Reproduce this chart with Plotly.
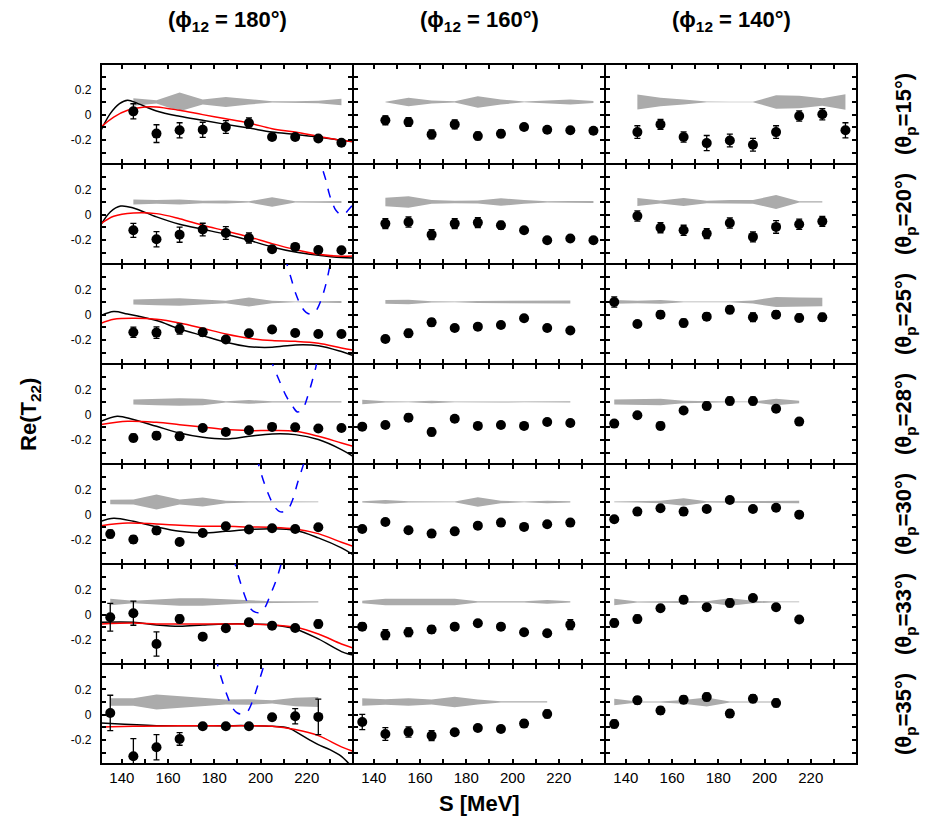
import plotly.graph_objects as go
from plotly.subplots import make_subplots

# ---------------- data ----------------
PHI_LABELS = ["180", "160", "140"]
THETA_LABELS = ["15", "20", "25", "28", "30", "33", "35"]
BAND_CENTER = 0.1

E145_235 = [145, 155, 165, 175, 185, 195, 205, 215, 225, 235]
E145_225 = [145, 155, 165, 175, 185, 195, 205, 215, 225]
E135_225 = [135, 145, 155, 165, 175, 185, 195, 205, 215, 225]
E135_215 = [135, 145, 155, 165, 175, 185, 195, 205, 215]
E135_205 = [135, 145, 155, 165, 175, 185, 195, 205]

# ---- phi12 = 180 deg ----
ENERGY_PHI180 = [E145_235, E145_235, E145_235, E145_235, E135_225, E135_225, E135_225]
T22_PHI180 = [
    [0.026, -0.15, -0.124, -0.12, -0.098, -0.066, -0.177, -0.177, -0.188, -0.222],
    [-0.124, -0.195, -0.158, -0.118, -0.145, -0.184, -0.274, -0.255, -0.279, -0.282],
    [-0.139, -0.142, -0.113, -0.139, -0.197, -0.147, -0.118, -0.145, -0.153, -0.153],
    [-0.184, -0.166, -0.171, -0.105, -0.137, -0.124, -0.097, -0.1, -0.11, -0.105],
    [-0.153, -0.197, -0.126, -0.216, -0.145, -0.092, -0.118, -0.108, -0.113, -0.1],
    [-0.021, 0.011, -0.232, -0.034, -0.174, -0.108, -0.061, -0.087, -0.105, -0.074],
    [0.013, -0.329, -0.258, -0.192, -0.092, -0.092, -0.092, -0.021, -0.013, -0.018],
]
ERR_PHI180 = [
    [0.06, 0.07, 0.06, 0.06, 0.05, 0.04, 0.02, 0.02, 0.02, 0.02],
    [0.055, 0.06, 0.06, 0.05, 0.05, 0.04, 0.02, 0.02, 0.02, 0.02],
    [0.04, 0.045, 0.04, 0.03, 0.02, 0.02, 0.02, 0.02, 0.02, 0.02],
    [0.03, 0.03, 0.03, 0.02, 0.02, 0.02, 0.02, 0.02, 0.02, 0.02],
    [0.03, 0.03, 0.03, 0.02, 0.02, 0.02, 0.02, 0.02, 0.02, 0.02],
    [0.11, 0.095, 0.095, 0.03, 0.02, 0.02, 0.02, 0.02, 0.02, 0.03],
    [0.14, 0.14, 0.1, 0.05, 0.02, 0.02, 0.02, 0.02, 0.06, 0.14],
]
BAND_PHI180 = [
    [0.03, 0.013, 0.074, 0.02, 0.04, 0.02, 0.005, 0.005, 0.01, 0.025],
    [0.02, 0.015, 0.02, 0.01, 0.012, 0.005, 0.037, 0.005, 0.005, 0.008],
    [0.02, 0.025, 0.03, 0.02, 0.01, 0.035, 0.01, 0.003, 0.005, 0.008],
    [0.02, 0.025, 0.03, 0.025, 0.005, 0.015, 0.005, 0.005, 0.005, 0.005],
    [0.017, 0.02, 0.06, 0.02, 0.035, 0.01, 0.005, 0.003, 0.003, 0.003],
    [0.025, 0.01, 0.02, 0.03, 0.03, 0.02, 0.01, 0.005, 0.005, 0.005],
    [0.03, 0.03, 0.06, 0.045, 0.035, 0.02, 0.022, 0.013, 0.033, 0.04],
]

# ---- phi12 = 160 deg ----
ENERGY_PHI160 = [E145_235, E145_235, E145_225, E135_225, E135_225, E135_225, E135_215]
T22_PHI160 = [
    [-0.045, -0.058, -0.156, -0.077, -0.169, -0.151, -0.098, -0.119, -0.124, -0.127],
    [-0.071, -0.058, -0.158, -0.071, -0.063, -0.084, -0.124, -0.203, -0.189, -0.203],
    [-0.192, -0.147, -0.061, -0.105, -0.095, -0.082, -0.029, -0.105, -0.126],
    [-0.095, -0.082, -0.024, -0.137, -0.032, -0.089, -0.082, -0.089, -0.058, -0.066],
    [-0.113, -0.058, -0.124, -0.15, -0.132, -0.087, -0.063, -0.097, -0.076, -0.063],
    [-0.095, -0.158, -0.139, -0.118, -0.095, -0.068, -0.095, -0.139, -0.147, -0.079],
    [-0.058, -0.153, -0.137, -0.166, -0.139, -0.105, -0.113, -0.071, 0.005],
]
ERR_PHI160 = [
    [0.035, 0.035, 0.035, 0.035, 0.03, 0.03, 0.02, 0.02, 0.02, 0.02],
    [0.04, 0.04, 0.04, 0.04, 0.04, 0.03, 0.02, 0.02, 0.02, 0.02],
    [0.02, 0.03, 0.03, 0.02, 0.02, 0.02, 0.02, 0.02, 0.02],
    [0.02, 0.02, 0.03, 0.03, 0.02, 0.02, 0.02, 0.02, 0.02, 0.02],
    [0.02, 0.02, 0.02, 0.02, 0.02, 0.02, 0.02, 0.02, 0.02, 0.02],
    [0.03, 0.04, 0.035, 0.03, 0.02, 0.02, 0.02, 0.02, 0.02, 0.04],
    [0.06, 0.05, 0.04, 0.04, 0.02, 0.02, 0.02, 0.03, 0.03],
]
BAND_PHI160 = [
    [0.002, 0.034, 0.012, 0.005, 0.045, 0.02, 0.003, 0.01, 0.02, 0.008],
    [0.033, 0.045, 0.015, 0.01, 0.012, 0.03, 0.015, 0.005, 0.008, 0.008],
    [0.015, 0.017, 0.005, 0.003, 0.008, 0.01, 0.012, 0.012, 0.012],
    [0.018, 0.005, 0.003, 0.01, 0.003, 0.003, 0.005, 0.003, 0.003, 0.005],
    [0.005, 0.015, 0.005, 0.003, 0.003, 0.038, 0.01, 0.003, 0.01, 0.005],
    [0.01, 0.026, 0.026, 0.026, 0.026, 0.005, 0.003, 0.005, 0.015, 0.005],
    [0.03, 0.022, 0.03, 0.02, 0.042, 0.02, 0.005, 0.005, 0.005],
]

# ---- phi12 = 140 deg ----
ENERGY_PHI140 = [E145_235, E145_225, E135_225, E135_215, E135_215, E135_215, E135_205]
T22_PHI140 = [
    [-0.138, -0.077, -0.177, -0.225, -0.204, -0.238, -0.138, -0.011, 0.003, -0.124],
    [-0.011, -0.103, -0.124, -0.15, -0.066, -0.176, -0.097, -0.076, -0.053],
    [0.1, -0.074, 0.0, -0.066, -0.016, 0.039, -0.021, 0.0, -0.026, -0.021],
    [-0.071, -0.005, -0.089, 0.032, 0.068, 0.108, 0.108, 0.047, -0.055],
    [-0.037, 0.024, 0.05, 0.024, 0.045, 0.116, 0.045, 0.055, 0.0],
    [-0.066, -0.034, 0.05, 0.118, 0.058, 0.092, 0.132, 0.058, -0.039],
    [-0.074, 0.113, 0.032, 0.118, 0.139, 0.008, 0.126, 0.092],
]
ERR_PHI140 = [
    [0.05, 0.04, 0.04, 0.06, 0.05, 0.05, 0.05, 0.04, 0.045, 0.06],
    [0.04, 0.04, 0.04, 0.04, 0.04, 0.04, 0.05, 0.04, 0.04],
    [0.04, 0.02, 0.03, 0.03, 0.03, 0.03, 0.035, 0.03, 0.03, 0.03],
    [0.02, 0.02, 0.03, 0.02, 0.03, 0.03, 0.03, 0.02, 0.02],
    [0.02, 0.02, 0.02, 0.03, 0.02, 0.02, 0.02, 0.02, 0.02],
    [0.03, 0.03, 0.02, 0.03, 0.02, 0.03, 0.02, 0.02, 0.02],
    [0.03, 0.03, 0.03, 0.03, 0.03, 0.03, 0.03, 0.03],
]
BAND_PHI140 = [
    [0.06, 0.033, 0.02, 0.003, 0.002, 0.002, 0.053, 0.05, 0.03, 0.062],
    [0.032, 0.012, 0.032, 0.01, 0.015, 0.015, 0.055, 0.005, 0.005],
    [0.015, 0.01, 0.015, 0.003, 0.003, 0.003, 0.012, 0.04, 0.035, 0.033],
    [0.02, 0.02, 0.025, 0.01, 0.005, 0.003, 0.003, 0.025, 0.01],
    [0.003, 0.005, 0.01, 0.03, 0.005, 0.005, 0.005, 0.008, 0.01],
    [0.026, 0.004, 0.005, 0.008, 0.005, 0.03, 0.01, 0.003, 0.003],
    [0.025, 0.004, 0.004, 0.015, 0.035, 0.004, 0.004, 0.004],
]

# ---- theory curves (phi12 = 180 column only) ----
BLACK_S = [
    [131, 135, 139, 142.5, 147, 155, 165, 175, 185, 195, 205, 215, 225, 235, 240],
    [131, 135, 139.5, 145, 155, 165, 175, 185, 195, 205, 215, 225, 235, 240],
    [131, 136.5, 142.5, 155, 165, 175, 185, 195, 205, 215, 225, 235, 240],
    [131, 138, 145, 155, 165, 175, 185, 195, 205, 215, 225, 235, 240],
    [131, 136.5, 145, 155, 165, 175, 185, 195, 205, 215, 225, 235, 240],
    [131, 145, 155, 165, 175, 185, 195, 205, 215, 225, 235, 238, 240],
    [131, 135, 155, 165, 175, 185, 195, 205, 212, 215, 221, 225, 230, 235, 238, 240],
]
BLACK_V = [
    [-0.124, 0.008, 0.087, 0.114, 0.087, 0.029, -0.013, -0.045, -0.077, -0.106, -0.138, -0.156, -0.177, -0.204, -0.214],
    [-0.079, 0.021, 0.068, 0.053, -0.018, -0.076, -0.116, -0.155, -0.203, -0.255, -0.295, -0.321, -0.339, -0.342],
    [-0.008, 0.024, 0.005, -0.047, -0.113, -0.166, -0.218, -0.253, -0.258, -0.239, -0.245, -0.292, -0.324],
    [-0.053, -0.013, -0.039, -0.092, -0.145, -0.179, -0.192, -0.171, -0.153, -0.158, -0.197, -0.276, -0.329],
    [-0.053, -0.029, -0.053, -0.097, -0.132, -0.145, -0.132, -0.118, -0.111, -0.124, -0.184, -0.263, -0.316],
    [-0.061, -0.061, -0.082, -0.092, -0.082, -0.074, -0.074, -0.082, -0.113, -0.192, -0.292, -0.311, -0.318],
    [-0.066, -0.071, -0.087, -0.087, -0.087, -0.087, -0.087, -0.092, -0.105, -0.132, -0.197, -0.237, -0.276, -0.329, -0.382, -0.41],
]
RED_S = [
    [131, 136.5, 142.5, 150, 155, 165, 175, 185, 195, 205, 215, 225, 235, 240],
    [131, 136.5, 145, 155, 165, 175, 185, 195, 205, 215, 225, 235, 240],
    [131, 136.5, 145, 155, 165, 175, 185, 195, 205, 215, 225, 235, 240],
    [131, 142.5, 155, 165, 175, 185, 195, 205, 215, 225, 235, 240],
    [131, 142.5, 155, 165, 175, 185, 195, 205, 215, 225, 235, 240],
    [131, 145, 155, 165, 175, 185, 195, 205, 215, 225, 235, 240],
    [131, 145, 165, 185, 205, 215, 225, 235, 240],
]
RED_V = [
    [-0.098, -0.019, 0.034, 0.061, 0.061, 0.034, 0.0, -0.032, -0.066, -0.111, -0.138, -0.172, -0.204, -0.212],
    [-0.071, -0.013, 0.013, 0.008, -0.032, -0.084, -0.129, -0.176, -0.229, -0.276, -0.313, -0.329, -0.326],
    [-0.068, -0.037, -0.029, -0.037, -0.066, -0.108, -0.153, -0.187, -0.205, -0.211, -0.226, -0.263, -0.279],
    [-0.079, -0.053, -0.061, -0.079, -0.097, -0.118, -0.126, -0.126, -0.132, -0.171, -0.224, -0.25],
    [-0.087, -0.066, -0.074, -0.084, -0.092, -0.092, -0.097, -0.1, -0.113, -0.15, -0.218, -0.25],
    [-0.074, -0.066, -0.074, -0.074, -0.074, -0.074, -0.074, -0.082, -0.1, -0.153, -0.232, -0.263],
    [-0.097, -0.092, -0.087, -0.089, -0.092, -0.118, -0.166, -0.255, -0.289],
]
BLUE_S = [
    [],
    [225.0, 226.1, 228.3, 229.7, 231.2, 232.6, 234.8, 236.2, 238.4, 240],
    [210.5, 211.4, 213.1, 215.3, 217.5, 219.7, 221.8, 224.0, 226.1, 228.3, 230.2, 231],
    [204.5, 205.2, 208.1, 211.0, 213.9, 216.0, 218.2, 220.4, 222.5, 224.0, 224.6],
    [198.5, 199.1, 201.6, 203.8, 205.9, 208.1, 209.5, 211.7, 213.9, 216.0, 218.6, 219.2],
    [188.5, 189.1, 191.5, 193.7, 195.8, 198.0, 199.7, 201.9, 204.1, 206.7, 208.8, 209.4],
    [181.0, 181.4, 183.5, 185.7, 187.9, 190.0, 192.2, 194.4, 196.5, 198.7, 200.9, 201.6, 202.2],
]
BLUE_V = [
    [],
    [0.48, 0.403, 0.271, 0.166, 0.087, 0.034, 0.0, 0.003, 0.047, 0.08],
    [0.45, 0.4, 0.295, 0.163, 0.07, 0.018, 0.005, 0.032, 0.111, 0.242, 0.4, 0.45],
    [0.45, 0.4, 0.27, 0.15, 0.065, 0.021, 0.045, 0.145, 0.276, 0.382, 0.45],
    [0.45, 0.4, 0.25, 0.145, 0.066, 0.026, 0.021, 0.039, 0.118, 0.25, 0.4, 0.45],
    [0.45, 0.395, 0.242, 0.124, 0.045, 0.018, 0.018, 0.058, 0.15, 0.268, 0.395, 0.45],
    [0.45, 0.395, 0.263, 0.145, 0.053, 0.013, 0.005, 0.026, 0.105, 0.224, 0.355, 0.395, 0.45],
]

X_RANGE = [131, 240]
Y_RANGE = [-0.39, 0.40]
X_MAJOR = [140, 160, 180, 200, 220]
X_MINOR = [150, 170, 190, 210, 230]
Y_MAJOR = [-0.2, 0, 0.2]
Y_MAJOR_TEXT = ["-0.2", "0", "0.2"]
Y_MINOR = [-0.3, -0.1, 0.1, 0.3]

# ---------------- figure ----------------
FONT = "Liberation Sans, Arial, Helvetica, sans-serif"
ncols, nrows = 3, 7
fig = make_subplots(rows=nrows, cols=ncols, horizontal_spacing=0, vertical_spacing=0)

columns = [
    (ENERGY_PHI180, T22_PHI180, ERR_PHI180, BAND_PHI180),
    (ENERGY_PHI160, T22_PHI160, ERR_PHI160, BAND_PHI160),
    (ENERGY_PHI140, T22_PHI140, ERR_PHI140, BAND_PHI140),
]

for c, (E, V, ER, B) in enumerate(columns):
    for r in range(nrows):
        s = E[r]
        hw = B[r]
        upper = [BAND_CENTER + h for h in hw]
        lower = [BAND_CENTER - h for h in hw]
        fig.add_trace(go.Scatter(
            x=s + s[::-1], y=upper + lower[::-1], fill="toself",
            fillcolor="#ababab", line=dict(width=0), mode="lines",
            hoverinfo="skip", showlegend=False), row=r + 1, col=c + 1)
        if c == 0:
            fig.add_trace(go.Scatter(
                x=BLACK_S[r], y=BLACK_V[r], mode="lines",
                line=dict(color="black", width=1.5, shape="spline"),
                showlegend=False), row=r + 1, col=1)
            fig.add_trace(go.Scatter(
                x=RED_S[r], y=RED_V[r], mode="lines",
                line=dict(color="red", width=1.5, shape="spline"),
                showlegend=False), row=r + 1, col=1)
            if BLUE_S[r]:
                fig.add_trace(go.Scatter(
                    x=BLUE_S[r], y=BLUE_V[r], mode="lines",
                    line=dict(color="blue", width=1.5, dash="dash", shape="spline"),
                    showlegend=False), row=r + 1, col=1)
        fig.add_trace(go.Scatter(
            x=s, y=V[r], mode="markers",
            marker=dict(color="black", size=10),
            error_y=dict(type="data", array=ER[r], visible=True,
                         color="black", thickness=1.3, width=3),
            showlegend=False), row=r + 1, col=c + 1)

for r in range(nrows):
    for c in range(ncols):
        fig.update_xaxes(
            range=X_RANGE, tickmode="array", tickvals=X_MAJOR,
            ticktext=[str(v) for v in X_MAJOR],
            ticks="inside", ticklen=5, tickwidth=1.5, tickcolor="black",
            minor=dict(tickmode="array", tickvals=X_MINOR, ticks="inside",
                       ticklen=5, tickwidth=1.5, tickcolor="black", showgrid=False),
            showline=True, linecolor="black", linewidth=1.1, mirror="allticks",
            showgrid=False, zeroline=False,
            showticklabels=(r == nrows - 1),
            tickfont=dict(family=FONT, size=15, color="black"),
            row=r + 1, col=c + 1)
        fig.update_yaxes(
            range=Y_RANGE, tickmode="array", tickvals=Y_MAJOR, ticktext=Y_MAJOR_TEXT,
            ticks="inside", ticklen=5, tickwidth=1.5, tickcolor="black",
            minor=dict(tickmode="array", tickvals=Y_MINOR, ticks="inside",
                       ticklen=5, tickwidth=1.5, tickcolor="black", showgrid=False),
            showline=True, linecolor="black", linewidth=1.1, mirror="allticks",
            showgrid=False, zeroline=False,
            showticklabels=(c == 0), ticklabelstandoff=6,
            tickfont=dict(family=FONT, size=12, color="black"),
            row=r + 1, col=c + 1)

annotations = []
for c, phi in enumerate(PHI_LABELS):
    annotations.append(dict(
        text="<b>(\u03d5<sub>12</sub> = " + phi + "\u00b0)</b>",
        x=(c + 0.5) / ncols, y=1.062, xref="paper", yref="paper",
        xanchor="center", yanchor="middle", showarrow=False,
        font=dict(family=FONT, size=22, color="black")))
for r, th in enumerate(THETA_LABELS):
    annotations.append(dict(
        text="<b>(\u03b8<sub>p</sub>=" + th + "\u00b0)</b>",
        x=1.0635, y=1 - (r + 0.5) / nrows, xref="paper", yref="paper",
        xanchor="center", yanchor="middle", textangle=-90, showarrow=False,
        font=dict(family=FONT, size=22, color="black")))
annotations.append(dict(
    text="<b>Re(T<sub>22</sub>)</b>", x=-0.094, y=0.5, xref="paper", yref="paper",
    xanchor="center", yanchor="middle", textangle=-90, showarrow=False,
    font=dict(family=FONT, size=22, color="black")))
annotations.append(dict(
    text="<b>S [MeV]</b>", x=0.5, y=-0.057, xref="paper", yref="paper",
    xanchor="center", yanchor="middle", showarrow=False,
    font=dict(family=FONT, size=22, color="black")))

# heavier outer frame around the whole grid
shapes = [dict(type="rect", xref="paper", yref="paper", x0=0, x1=1, y0=0, y1=1,
               line=dict(color="black", width=2), layer="above")]

# the page body adds an 8px offset; the figure is sized to fill the window from there
fig.update_layout(
    width=926, height=817, autosize=False,
    margin=dict(l=93, r=77, t=56, b=61),
    plot_bgcolor="white", paper_bgcolor="white",
    showlegend=False, annotations=annotations, shapes=shapes,
    font=dict(family=FONT, color="black"))

fig.write_html("out.html")
